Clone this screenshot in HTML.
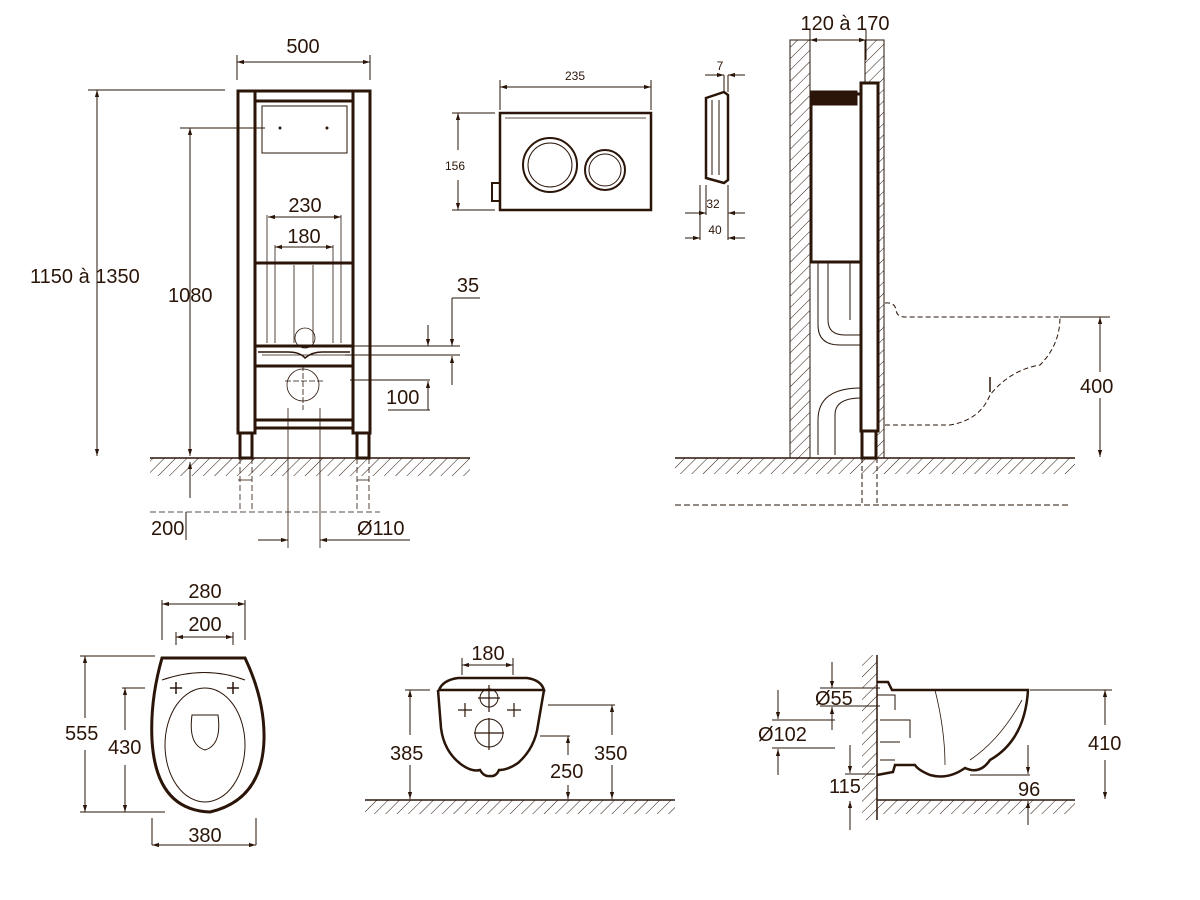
<!DOCTYPE html>
<html><head><meta charset="utf-8"><style>
html,body{margin:0;padding:0;background:#fff;}
svg{display:block}
text{font-family:"Liberation Sans",sans-serif;fill:#2a1508;}
</style></head><body>
<svg width="1200" height="900" viewBox="0 0 1200 900" xmlns="http://www.w3.org/2000/svg">
<defs>
<pattern id="h" width="8" height="8" patternUnits="userSpaceOnUse" patternTransform="rotate(45)">
<line x1="0" y1="0" x2="0" y2="8" stroke="#2a1508" stroke-width="1"/>
</pattern>
<marker id="a" viewBox="0 0 10 10" refX="10" refY="5" markerWidth="7" markerHeight="7" orient="auto-start-reverse"><path d="M0,2 L10,5 L0,8z" fill="#2a1508"/></marker>
</defs>
<g stroke="#2a1508" fill="none" stroke-width="1">
<!-- ===== Front frame ===== -->
<rect x="150" y="458" width="320" height="18" fill="url(#h)" stroke="none"/>
<line x1="150" y1="458" x2="470" y2="458" stroke-width="1.5"/>
<g stroke-width="3">
<rect x="238" y="91" width="17" height="342"/>
<rect x="353" y="91" width="17" height="342"/>
<line x1="255" y1="91" x2="353" y2="91"/>
<line x1="255" y1="101" x2="353" y2="101"/>
<line x1="255" y1="263" x2="353" y2="263"/>
<line x1="255" y1="346" x2="353" y2="346"/>
<line x1="255" y1="366" x2="353" y2="366"/>
<line x1="255" y1="420" x2="353" y2="420"/>
<line x1="255" y1="428" x2="353" y2="428"/>
<rect x="240" y="433" width="12" height="25"/>
<rect x="357" y="433" width="12" height="25"/>
</g>
<rect x="262" y="106" width="85" height="47"/>
<circle cx="280" cy="128" r="1" fill="#2a1508"/><circle cx="327" cy="128" r="1" fill="#2a1508"/>
<g stroke-width="0.8">
<line x1="267" y1="215" x2="267" y2="343"/><line x1="275" y1="245" x2="275" y2="343"/>
<line x1="294" y1="265" x2="294" y2="343"/><line x1="313" y1="265" x2="313" y2="343"/>
<line x1="333" y1="245" x2="333" y2="343"/><line x1="341" y1="215" x2="341" y2="343"/>
<circle cx="305" cy="338" r="10"/><circle cx="303" cy="385" r="16"/>
<line x1="285" y1="381" x2="323" y2="381" stroke-dasharray="6,2"/>
<line x1="303" y1="365" x2="303" y2="410" stroke-dasharray="6,2"/>
<line x1="288" y1="408" x2="288" y2="548"/><line x1="320" y1="408" x2="320" y2="548"/>
<line x1="240" y1="458" x2="240" y2="512" stroke-dasharray="6,3"/><line x1="252" y1="458" x2="252" y2="512" stroke-dasharray="6,3"/>
<line x1="357" y1="458" x2="357" y2="512" stroke-dasharray="6,3"/><line x1="369" y1="458" x2="369" y2="512" stroke-dasharray="6,3"/>
<line x1="238" y1="480" x2="252" y2="480"/><line x1="357" y1="480" x2="369" y2="480"/>
<line x1="150" y1="512" x2="380" y2="512" stroke-dasharray="6,3"/>
<line x1="262" y1="355" x2="345" y2="355"/>
</g>
<path d="M258,352 L288,352 Q300,352 305,358 Q312,352 322,352 L350,352" stroke-width="1.5"/>
<!-- dims -->
<line x1="237" y1="55" x2="237" y2="80"/><line x1="370" y1="55" x2="370" y2="80"/>
<line x1="237" y1="62" x2="370" y2="62" marker-start="url(#a)" marker-end="url(#a)"/>
<line x1="88" y1="90" x2="225" y2="90"/><line x1="97" y1="90" x2="97" y2="456" marker-start="url(#a)" marker-end="url(#a)"/>
<line x1="180" y1="128" x2="265" y2="128"/><line x1="190" y1="128" x2="190" y2="456" marker-start="url(#a)" marker-end="url(#a)"/>
<line x1="190" y1="462" x2="190" y2="498" marker-start="url(#a)"/>
<line x1="186" y1="512" x2="186" y2="540"/>
<line x1="268" y1="217" x2="341" y2="217" marker-start="url(#a)" marker-end="url(#a)"/>
<line x1="275" y1="247" x2="333" y2="247" marker-start="url(#a)" marker-end="url(#a)"/>
<line x1="330" y1="346" x2="460" y2="346"/><line x1="345" y1="355" x2="460" y2="355"/>
<line x1="428" y1="325" x2="428" y2="346" marker-end="url(#a)"/>
<line x1="452" y1="298" x2="452" y2="346" marker-end="url(#a)"/><line x1="452" y1="298" x2="480" y2="298"/>
<line x1="452" y1="385" x2="452" y2="356" marker-end="url(#a)"/>
<line x1="350" y1="380" x2="430" y2="380"/><line x1="428" y1="410" x2="428" y2="381" marker-end="url(#a)"/>
<line x1="388" y1="410" x2="430" y2="410"/>
<line x1="258" y1="540" x2="288" y2="540" marker-end="url(#a)"/>
<line x1="320" y1="540" x2="410" y2="540" marker-start="url(#a)"/>
<!-- ===== flush plate ===== -->
<rect x="500" y="113" width="151" height="97" stroke-width="2.5"/>
<line x1="505" y1="118" x2="646" y2="118" stroke-width="0.7"/>
<circle cx="550" cy="165" r="27" stroke-width="2"/><circle cx="550" cy="165" r="22"/>
<circle cx="605" cy="170" r="20" stroke-width="2"/><circle cx="605" cy="170" r="16"/>
<rect x="492" y="183" width="8" height="18" stroke-width="2"/>
<line x1="500" y1="80" x2="500" y2="110"/><line x1="651" y1="80" x2="651" y2="110"/>
<line x1="500" y1="87" x2="651" y2="87" marker-start="url(#a)" marker-end="url(#a)"/>
<line x1="452" y1="113" x2="495" y2="113"/><line x1="452" y1="210" x2="495" y2="210"/>
<line x1="458" y1="113" x2="458" y2="150" marker-start="url(#a)"/><line x1="458" y1="180" x2="458" y2="210" marker-end="url(#a)"/>
<!-- side plate -->
<path d="M706,98 L724,92 L728,95 L728,180 L724,183 L706,178z" stroke-width="2.5"/>
<line x1="712" y1="100" x2="712" y2="175"/><line x1="719" y1="100" x2="719" y2="175"/>
<line x1="724" y1="75" x2="724" y2="92"/><line x1="728" y1="75" x2="728" y2="92"/>
<line x1="705" y1="75" x2="724" y2="75" marker-end="url(#a)"/><line x1="745" y1="75" x2="728" y2="75" marker-end="url(#a)"/>
<line x1="700" y1="185" x2="700" y2="240"/><line x1="706" y1="185" x2="706" y2="215"/><line x1="728" y1="185" x2="728" y2="240"/>
<line x1="685" y1="213" x2="706" y2="213" marker-end="url(#a)"/><line x1="745" y1="213" x2="728" y2="213" marker-end="url(#a)"/>
<line x1="685" y1="238" x2="700" y2="238" marker-end="url(#a)"/><line x1="745" y1="238" x2="728" y2="238" marker-end="url(#a)"/>
<!-- ===== side section ===== -->
<rect x="790" y="40" width="20" height="418" fill="url(#h)"/>
<rect x="865" y="40" width="19" height="418" fill="url(#h)"/>
<rect x="675" y="458" width="400" height="16" fill="url(#h)" stroke="none"/>
<line x1="675" y1="458" x2="1075" y2="458" stroke-width="1.5"/>
<line x1="675" y1="505" x2="1070" y2="505" stroke-dasharray="6,3"/>
<g stroke-width="3">
<rect x="861" y="83" width="17" height="348" fill="#fff"/>
<rect x="862" y="431" width="14" height="27" fill="#fff"/>
<rect x="811" y="94" width="50" height="168"/>
<rect x="811" y="92" width="45" height="12" fill="#2a1508"/>
</g>
<path d="M818,262 V325 Q818,345 840,345 H861 M828,262 V320 Q828,335 845,335 H861 M850,262 V320" />
<path d="M818,455 V420 Q818,388 861,388 M835,455 V415 Q835,398 861,398"/>
<line x1="862" y1="458" x2="862" y2="505" stroke-dasharray="5,3"/><line x1="877" y1="458" x2="877" y2="505" stroke-dasharray="5,3"/>
<line x1="810" y1="40" x2="866" y2="40" marker-start="url(#a)" marker-end="url(#a)"/>
<line x1="810" y1="30" x2="810" y2="60"/><line x1="866" y1="30" x2="866" y2="60"/>
<path d="M885,303 Q895,302 896,310 Q897,317 905,317 H1060 Q1060,345 1040,365 Q1010,370 990,395 Q980,420 950,425 H885" stroke-dasharray="5,3"/>
<line x1="990" y1="377" x2="990" y2="392" stroke-width="1.5"/>
<line x1="1060" y1="317" x2="1110" y2="317"/>
<line x1="1100" y1="317" x2="1100" y2="372" marker-start="url(#a)"/><line x1="1100" y1="398" x2="1100" y2="457" marker-end="url(#a)"/>
<!-- ===== bowl top view ===== -->
<path d="M162,658 H245 Q265,700 264,740 Q262,800 210,812 Q156,810 152,740 Q150,700 162,658z" stroke-width="3"/>
<path d="M162,680 Q205,665 245,680" />
<ellipse cx="205" cy="745" rx="40" ry="57"/>
<path d="M192,715 H218 Q222,745 205,750 Q188,745 192,715z"/>
<path d="M176,682 V694 M170,688 H182 M233,682 V694 M227,688 H239" stroke-width="1.5"/>
<line x1="162" y1="600" x2="162" y2="640"/><line x1="245" y1="600" x2="245" y2="640"/>
<line x1="162" y1="604" x2="245" y2="604" marker-start="url(#a)" marker-end="url(#a)"/>
<line x1="176" y1="637" x2="233" y2="637" marker-start="url(#a)" marker-end="url(#a)"/>
<line x1="176" y1="632" x2="176" y2="645"/><line x1="233" y1="632" x2="233" y2="645"/>
<line x1="80" y1="656" x2="155" y2="656"/><line x1="80" y1="812" x2="165" y2="812"/>
<line x1="85" y1="656" x2="85" y2="718" marker-start="url(#a)"/><line x1="85" y1="750" x2="85" y2="812" marker-end="url(#a)"/>
<line x1="122" y1="688" x2="145" y2="688"/><line x1="125" y1="688" x2="125" y2="730" marker-start="url(#a)"/><line x1="125" y1="765" x2="125" y2="812" marker-end="url(#a)"/>
<line x1="152" y1="818" x2="152" y2="845"/><line x1="256" y1="818" x2="256" y2="845"/>
<line x1="152" y1="845" x2="256" y2="845" marker-start="url(#a)" marker-end="url(#a)"/>
<!-- ===== front bowl ===== -->
<rect x="365" y="800" width="310" height="14" fill="url(#h)" stroke="none"/>
<line x1="365" y1="800" x2="675" y2="800" stroke-width="1.5"/>
<path d="M439,690 Q443,680 458,678 H527 Q541,680 544,690 Z" stroke-width="2.5"/>
<path d="M438,690 L441,728 Q444,752 462,765 Q472,772 480,770 Q484,777 490,776 Q496,777 499,770 Q508,770 518,763 Q535,748 538,725 L544,690" stroke-width="2.5"/>
<circle cx="489" cy="698" r="9"/><circle cx="489" cy="733" r="14"/>
<path d="M489,685 V712 M478,698 H500 M474,733 H504 M489,718 V750 M458,710 H472 M465,703 V717 M507,710 H521 M514,703 V717" stroke-width="1.2"/>
<line x1="462" y1="665" x2="513" y2="665" marker-start="url(#a)" marker-end="url(#a)"/>
<line x1="462" y1="658" x2="462" y2="675"/><line x1="513" y1="658" x2="513" y2="675"/>
<line x1="405" y1="690" x2="430" y2="690"/><line x1="410" y1="690" x2="410" y2="735" marker-start="url(#a)"/><line x1="410" y1="765" x2="410" y2="799" marker-end="url(#a)"/>
<line x1="548" y1="705" x2="615" y2="705"/><line x1="612" y1="705" x2="612" y2="735" marker-start="url(#a)"/><line x1="612" y1="765" x2="612" y2="799" marker-end="url(#a)"/>
<line x1="540" y1="736" x2="570" y2="736"/><line x1="568" y1="736" x2="568" y2="755" marker-start="url(#a)"/><line x1="568" y1="785" x2="568" y2="799" marker-end="url(#a)"/>
<!-- ===== side bowl ===== -->
<rect x="862" y="655" width="15" height="165" fill="url(#h)" stroke="none"/>
<line x1="877" y1="655" x2="877" y2="820" stroke-width="1.5"/>
<rect x="877" y="800" width="198" height="14" fill="url(#h)" stroke="none"/>
<line x1="877" y1="800" x2="1075" y2="800" stroke-width="1.5"/>
<path d="M877,682 H888 L892,690 H1028 Q1025,740 990,760 Q980,775 965,768 Q948,780 930,775 Q918,770 915,765 H895 L893,772 L877,775" stroke-width="2.5"/>
<path d="M935,690 Q945,730 945,765 M1022,700 Q1000,740 970,760" stroke-width="0.8"/>
<path d="M877,695 H895 V710 M880,720 H910 V738 M880,742 H900 M880,760 H895"/>
<line x1="1030" y1="690" x2="1112" y2="690"/><line x1="1105" y1="690" x2="1105" y2="725" marker-start="url(#a)"/><line x1="1105" y1="760" x2="1105" y2="799" marker-end="url(#a)"/>
<line x1="832" y1="662" x2="832" y2="688" marker-end="url(#a)"/><line x1="820" y1="688" x2="880" y2="688"/>
<line x1="820" y1="706" x2="880" y2="706"/><line x1="832" y1="730" x2="832" y2="707" marker-end="url(#a)"/>
<line x1="778" y1="690" x2="778" y2="719" marker-end="url(#a)"/><line x1="772" y1="720" x2="835" y2="720"/>
<line x1="772" y1="748" x2="835" y2="748"/><line x1="778" y1="775" x2="778" y2="749" marker-end="url(#a)"/>
<line x1="850" y1="745" x2="850" y2="773" marker-end="url(#a)"/><line x1="845" y1="774" x2="875" y2="774"/>
<line x1="850" y1="830" x2="850" y2="801" marker-end="url(#a)"/>
<line x1="970" y1="775" x2="1030" y2="775"/><line x1="1028" y1="745" x2="1028" y2="774" marker-end="url(#a)"/>
<line x1="1028" y1="825" x2="1028" y2="801" marker-end="url(#a)"/>
</g>
<g font-size="20">
<text x="303" y="53" text-anchor="middle">500</text>
<text x="30" y="283">1150 à 1350</text>
<text x="168" y="302">1080</text>
<text x="305" y="212" text-anchor="middle">230</text>
<text x="304" y="243" text-anchor="middle">180</text>
<text x="468" y="292" text-anchor="middle">35</text>
<text x="386" y="404">100</text>
<text x="151" y="535">200</text>
<text x="357" y="535">Ø110</text>
<text x="845" y="30" text-anchor="middle">120 à 170</text>
<text x="1080" y="393">400</text>
<text x="205" y="598" text-anchor="middle">280</text>
<text x="205" y="631" text-anchor="middle">200</text>
<text x="65" y="740">555</text>
<text x="108" y="754">430</text>
<text x="205" y="842" text-anchor="middle">380</text>
<text x="488" y="660" text-anchor="middle">180</text>
<text x="390" y="760">385</text>
<text x="550" y="778">250</text>
<text x="594" y="760">350</text>
<text x="815" y="705">Ø55</text>
<text x="758" y="741">Ø102</text>
<text x="829" y="793">115</text>
<text x="1018" y="796">96</text>
<text x="1088" y="750">410</text>
</g>
<g font-size="12">
<text x="575" y="80" text-anchor="middle">235</text>
<text x="455" y="170" text-anchor="middle">156</text>
<text x="720" y="70" text-anchor="middle">7</text>
<text x="713" y="208" text-anchor="middle">32</text>
<text x="715" y="234" text-anchor="middle">40</text>
</g>
</svg>
</body></html>
